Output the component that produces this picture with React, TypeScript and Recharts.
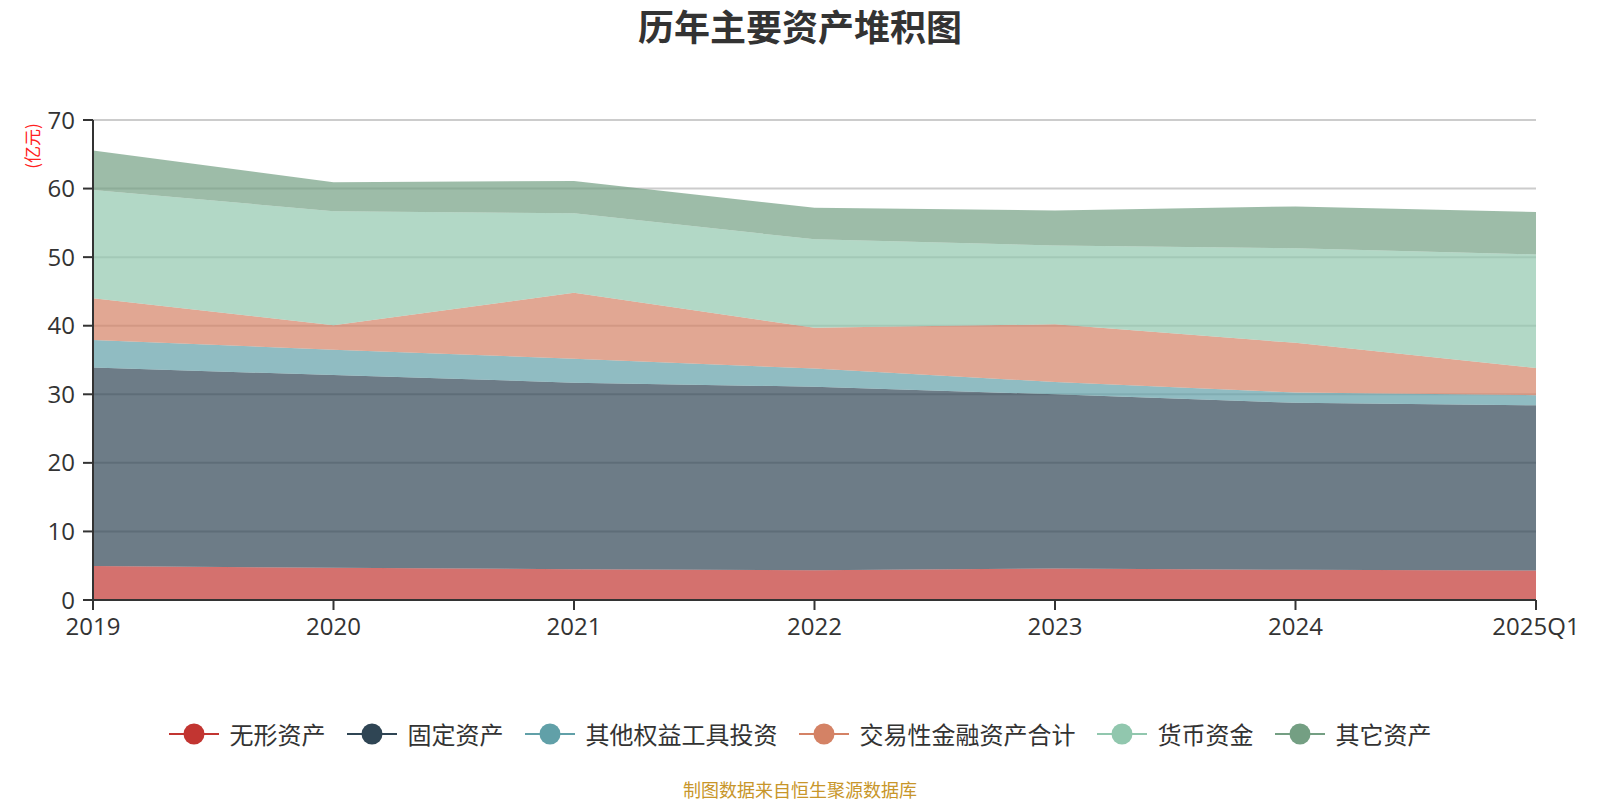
import React from 'react';
import { AreaChart, Area, XAxis, YAxis, CartesianGrid } from 'recharts';

const years = ['2019', '2020', '2021', '2022', '2023', '2024', '2025Q1'];
const intangible = [4.95, 4.7, 4.5, 4.35, 4.6, 4.4, 4.3];
const fixedAssets = [28.95, 28.1, 27.2, 26.75, 25.4, 24.35, 24.1];
const otherEquity = [4.0, 3.7, 3.5, 2.65, 1.8, 1.5, 1.47];
const tradingFin = [6.1, 3.56, 9.6, 5.95, 8.4, 7.25, 3.97];
const cash = [15.8, 16.64, 11.6, 12.9, 11.5, 13.8, 16.56];
const otherAssets = [5.76, 4.24, 4.7, 4.6, 5.1, 6.1, 6.17];
const yTicks = [0, 10, 20, 30, 40, 50, 60, 70];

const seriesNames = ['无形资产', '固定资产', '其他权益工具投资', '交易性金融资产合计', '货币资金', '其它资产'];
const seriesKeys = ['s0', 's1', 's2', 's3', 's4', 's5'];
const seriesColors = ['#c23531', '#2f4554', '#61a0a8', '#d48265', '#91c7ae', '#749f83'];
const seriesValues = [intangible, fixedAssets, otherEquity, tradingFin, cash, otherAssets];

const data = years.map((y, i) => {
  const row: Record<string, any> = { year: y };
  seriesKeys.forEach((k, j) => {
    row[k] = seriesValues[j][i];
  });
  return row;
});

const FONT = "'Open Sans','Noto Sans CJK SC',sans-serif";

export default function App() {
  return (
    <div style={{ position: 'relative', width: 1600, height: 800, fontFamily: FONT, background: '#fff' }}>
      <style>{`body{margin:0;}`}</style>
      <div
        style={{
          position: 'absolute',
          left: 0,
          top: 2,
          width: 1600,
          textAlign: 'center',
          fontSize: 36,
          fontWeight: 'bold',
          color: '#333',
          lineHeight: '46px',
          fontFamily: "'Noto Sans CJK SC',sans-serif",
        }}
      >
        历年主要资产堆积图
      </div>
      <div
        style={{
          position: 'absolute',
          left: 30.5,
          top: 146,
          transform: 'translate(-50%,-50%) rotate(-90deg)',
          color: '#ff2020',
          fontSize: 17,
          whiteSpace: 'nowrap',
          fontFamily: "'Noto Sans CJK SC',sans-serif",
        }}
      >
        (亿元)
      </div>
      <AreaChart width={1600} height={800} data={data} margin={{ top: 120, right: 64, bottom: 0, left: 0 }}>
        <CartesianGrid vertical={false} stroke="#cccccc" strokeWidth={2} />
        <XAxis
          dataKey="year"
          interval={0}
          height={200}
          tickSize={10}
          tickMargin={8}
          axisLine={{ stroke: '#333', strokeWidth: 2 }}
          tickLine={{ stroke: '#333', strokeWidth: 2 }}
          tick={{ fill: '#333', fontSize: 24, fontFamily: FONT }}
        />
        <YAxis
          domain={[0, 70]}
          ticks={yTicks}
          width={93}
          tickSize={10}
          tickMargin={8}
          axisLine={{ stroke: '#333', strokeWidth: 2 }}
          tickLine={{ stroke: '#333', strokeWidth: 2 }}
          tick={{ fill: '#333', fontSize: 24, fontFamily: FONT }}
        />
        {seriesKeys.map((k, j) => (
          <Area
            key={k}
            type="linear"
            dataKey={k}
            name={seriesNames[j]}
            stackId="a"
            stroke="none"
            fill={seriesColors[j]}
            fillOpacity={0.7}
            isAnimationActive={false}
            dot={false}
            activeDot={false}
          />
        ))}
      </AreaChart>
      <div
        style={{
          position: 'absolute',
          left: 0,
          top: 714,
          width: 1600,
          height: 40,
          display: 'flex',
          justifyContent: 'center',
          alignItems: 'center',
          gap: 21,
          fontFamily: "'Noto Sans CJK SC',sans-serif",
        }}
      >
        {seriesNames.map((n, j) => (
          <div key={n} style={{ display: 'flex', alignItems: 'center' }}>
            <svg width={50} height={22} style={{ marginRight: 11, display: 'block' }}>
              <line x1={0} y1={11} x2={50} y2={11} stroke={seriesColors[j]} strokeWidth={2} />
              <circle cx={25} cy={11} r={10.5} fill={seriesColors[j]} />
            </svg>
            <span style={{ fontSize: 24, color: '#333', lineHeight: '40px' }}>{n}</span>
          </div>
        ))}
      </div>
      <div
        style={{
          position: 'absolute',
          left: 0,
          top: 777,
          width: 1600,
          textAlign: 'center',
          fontSize: 18,
          color: '#c8962a',
          lineHeight: '24px',
          fontFamily: "'Noto Sans CJK SC',sans-serif",
        }}
      >
        制图数据来自恒生聚源数据库
      </div>
    </div>
  );
}
